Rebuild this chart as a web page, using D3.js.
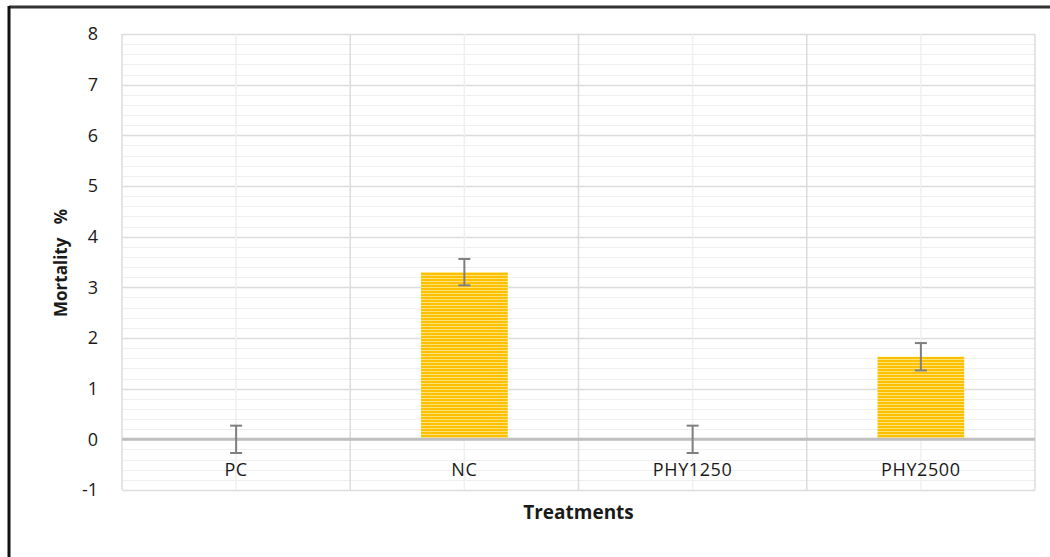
<!DOCTYPE html>
<html>
<head>
<meta charset="utf-8">
<script src="https://cdn.jsdelivr.net/npm/d3@7"></script>
<style>
  body { margin: 0; background: #fff; }
  svg text { font-family: "Open Sans", Lato, sans-serif; fill: #1a1a1a; }
</style>
</head>
<body>
<div id="chart"></div>
<script>
// chart data
var categories = ["PC", "NC", "PHY1250", "PHY2500"];
var mortality = [0, 3.3, 0, 1.63];
var errors = [0.27, 0.26, 0.27, 0.27];
var yTicks = [-1, 0, 1, 2, 3, 4, 5, 6, 7, 8];

function init() {
    var w = 1050, h = 557;
    var left = 122, right = 1035, top = 34, bottom = 490;

    var svg = d3.select("#chart").append("svg")
        .attr("width", w)
        .attr("height", h);

    // striped fill for the bars
    var defs = svg.append("defs");
    var pat = defs.append("pattern")
        .attr("id", "stripes")
        .attr("patternUnits", "userSpaceOnUse")
        .attr("width", 8).attr("height", 3);
    pat.append("rect").attr("width", 8).attr("height", 3).attr("fill", "#ffc000");
    pat.append("rect").attr("y", 2).attr("width", 8).attr("height", 1).attr("fill", "#ffe27a");

    // outer frame (left + top only, like the cropped original)
    svg.append("line").attr("x1", 9).attr("y1", 7).attr("x2", 1050).attr("y2", 7)
        .attr("stroke", "#333").attr("stroke-width", 3);
    svg.append("line").attr("x1", 9).attr("y1", 6).attr("x2", 9).attr("y2", h)
        .attr("stroke", "#111").attr("stroke-width", 3);

    var x = d3.scaleBand().domain(categories).range([left, right]);
    var y = d3.scaleLinear().domain([-1, 8]).range([bottom, top]);

    // minor horizontal grid every 0.2
    var minor = d3.range(-1, 8.001, 0.2);
    svg.append("g").selectAll("line").data(minor).enter().append("line")
        .attr("x1", left).attr("x2", right)
        .attr("y1", function(d) { return Math.round(y(d)) + 0.5; })
        .attr("y2", function(d) { return Math.round(y(d)) + 0.5; })
        .attr("stroke", "#efefef").attr("stroke-width", 1);

    // major horizontal grid
    svg.append("g").selectAll("line").data(yTicks).enter().append("line")
        .attr("x1", left).attr("x2", right)
        .attr("y1", function(d) { return Math.round(y(d)) + 0.5; })
        .attr("y2", function(d) { return Math.round(y(d)) + 0.5; })
        .attr("stroke", "#dcdcdc").attr("stroke-width", 1.5);

    // vertical grid: light at category centers, darker at boundaries
    svg.append("g").selectAll("line").data(categories).enter().append("line")
        .attr("x1", function(d) { return x(d) + x.bandwidth() / 2; })
        .attr("x2", function(d) { return x(d) + x.bandwidth() / 2; })
        .attr("y1", top).attr("y2", bottom)
        .attr("stroke", "#efefef").attr("stroke-width", 1.5);
    svg.append("g").selectAll("line").data(categories.concat(["end"])).enter().append("line")
        .attr("x1", function(d, i) { return left + i * x.bandwidth(); })
        .attr("x2", function(d, i) { return left + i * x.bandwidth(); })
        .attr("y1", top).attr("y2", bottom)
        .attr("stroke", "#dcdcdc").attr("stroke-width", 1.5);

    // bars
    var bw = x.bandwidth() * 0.38;
    svg.append("g").selectAll("rect").data(mortality).enter().append("rect")
        .attr("x", function(d, i) { return x(categories[i]) + (x.bandwidth() - bw) / 2; })
        .attr("y", function(d) { return y(Math.max(d, 0)); })
        .attr("width", bw)
        .attr("height", function(d) { return Math.abs(y(d) - y(0)); })
        .attr("fill", "url(#stripes)");

    // zero line
    svg.append("line")
        .attr("x1", left).attr("x2", right)
        .attr("y1", y(0)).attr("y2", y(0))
        .attr("stroke", "#bfbfbf").attr("stroke-width", 3);

    // error bars
    var eg = svg.append("g").attr("stroke", "#7f7f7f").attr("stroke-width", 2);
    mortality.forEach(function(d, i) {
        var cx = x(categories[i]) + x.bandwidth() / 2;
        var e = errors[i];
        eg.append("line").attr("x1", cx).attr("x2", cx).attr("y1", y(d + e)).attr("y2", y(d - e));
        eg.append("line").attr("x1", cx - 6).attr("x2", cx + 6).attr("y1", y(d + e)).attr("y2", y(d + e));
        eg.append("line").attr("x1", cx - 6).attr("x2", cx + 6).attr("y1", y(d - e)).attr("y2", y(d - e));
    });

    // y tick labels
    svg.append("g").selectAll("text").data(yTicks).enter().append("text")
        .attr("x", 98)
        .attr("y", function(d) { return y(d); })
        .attr("dy", "0.35em")
        .attr("text-anchor", "end")
        .style("font-size", "18px")
        .text(function(d) { return d; });

    // category labels
    svg.append("g").selectAll("text").data(categories).enter().append("text")
        .attr("x", function(d) { return x(d) + x.bandwidth() / 2; })
        .attr("y", 470)
        .attr("dy", "0.35em")
        .attr("text-anchor", "middle")
        .style("font-size", "18px")
        .style("letter-spacing", "0.6px")
        .text(function(d) { return d; });

    // axis titles
    svg.append("text")
        .attr("x", (left + right) / 2).attr("y", 512)
        .attr("dy", "0.35em")
        .attr("text-anchor", "middle")
        .style("font-size", "19px").style("font-weight", "bold")
        .text("Treatments");

    svg.append("text")
        .attr("transform", "translate(61,263) rotate(-90)")
        .attr("dy", "0.35em")
        .attr("text-anchor", "middle")
        .style("font-size", "17px").style("font-weight", "bold")
        .style("white-space", "pre")
        .text("Mortality   %");
}

window.onload = init;
</script>
</body>
</html>
